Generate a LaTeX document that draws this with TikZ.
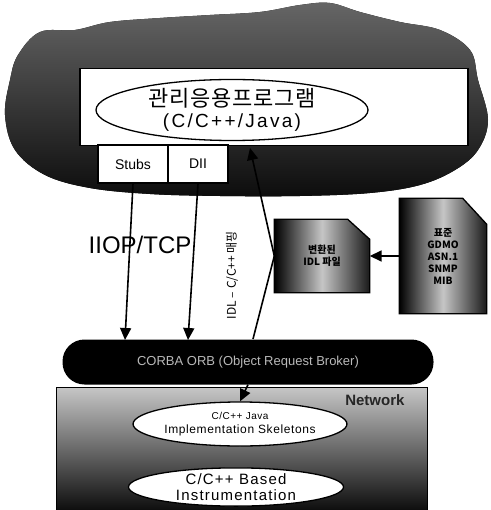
\documentclass[tikz,border=0pt]{standalone}
\usepackage{fontspec}
\setmainfont{Liberation Sans}
\newfontfamily\kor{Noto Sans CJK KR}
\usetikzlibrary{positioning,arrows.meta,shapes.geometric,calc}

\begin{document}
\begin{tikzpicture}[x=1pt, y=-1pt,
  arr/.style={-{Triangle[length=12pt,width=11pt]}, line width=1.6pt},
  line/.style={line width=1.6pt},
  wbox/.style={draw, fill=white, line width=1.3pt, inner sep=0pt},
  oval/.style={ellipse, draw, fill=white, line width=1.3pt, inner sep=0pt, align=center},
  docshade/.style={draw, line width=1.3pt, left color=black, right color=black!90, middle color=gray!45},
  doctext/.style={font=\kor\bfseries\fontsize{10}{12}\selectfont, align=center},
]
  \useasboundingbox (0,0) rectangle (490,510);

  % management application cloud
  \fill[top color=black!60, bottom color=black!95]
    plot[smooth cycle, tension=0.6] coordinates {
      (18,55) (40,32) (75,30) (110,22) (160,18) (210,15) (260,12) (300,5)
      (330,3) (360,12) (400,22) (440,30) (470,50) (478,80) (488,120)
      (478,150) (455,170) (420,185) (370,193) (300,196) (220,196)
      (150,194) (90,188) (45,175) (15,150) (5,115) (10,80)};

  \node[wbox, minimum width=388, minimum height=77] (app) at (274,107) {};
  \node[oval, minimum width=272, minimum height=54, font=\fontsize{19}{21}\selectfont] (prog) at (232,110)
    {{\kor\addfontfeatures{LetterSpace=3}\fontsize{22}{22}\selectfont 관리응용프로그램}\\
     {\addfontfeatures{LetterSpace=12}(C/C++/Java)}};
  \node[wbox, minimum width=70, minimum height=38, font=\fontsize{14}{16}\selectfont] (stubs) at (133,164) {Stubs};
  \node[wbox, minimum width=60, minimum height=38, font=\fontsize{14}{16}\selectfont] (dii) at (198,164) {DII};

  % documents
  \node[minimum width=95, minimum height=73] (idldoc) at (322,256) {};
  \path[docshade] (idldoc.south west) -- (idldoc.north west) -- ($(idldoc.north east)+(-22,0)$)
    -- ($(idldoc.north east)+(0,20)$) -- (idldoc.south east) -- cycle;
  \node[doctext] at (idldoc) {변환된\\IDL 파일};

  \node[minimum width=87, minimum height=115] (mibdoc) at (443,256) {};
  \path[docshade] (mibdoc.south west) -- (mibdoc.north west) -- ($(mibdoc.north east)+(-24,0)$)
    -- ($(mibdoc.north east)+(0,26)$) -- (mibdoc.south east) -- cycle;
  \node[doctext] at (mibdoc) {표준\\GDMO\\ASN.1\\SNMP\\MIB};

  \draw[arr] (mibdoc.west) -- (idldoc.east);

  % ORB band and network
  \node[rounded corners=22, fill=black, minimum width=371, minimum height=45,
        text=gray!55, font=\fontsize{13}{15}\selectfont] (orb) at (248,362)
    {CORBA ORB (Object Request Broker)};
  \node[draw, line width=1.3pt, top color=gray!45, bottom color=black!95,
        minimum width=371, minimum height=123] (net) at (242,449) {};
  \node[font=\bfseries\fontsize{15}{17}\selectfont, text=black!85, anchor=east] (netlbl) at (408,400) {Network};

  \node[oval, minimum width=195, minimum height=44,
        font=\addfontfeatures{LetterSpace=5}\fontsize{12}{14}\selectfont] (skel) at (240,424)
    {{\fontsize{10}{10}\selectfont C/C++ Java}\\
     Implementation Skeletons};
  \node[oval, minimum width=215, minimum height=36,
        font=\addfontfeatures{LetterSpace=8}\fontsize{15}{16}\selectfont] (instr) at (236,487)
    {C/C++ Based\\Instrumentation};

  % connectors
  \coordinate (s1) at (125,340);
  \coordinate (s2) at (188,340);
  \coordinate (up) at (250,148);
  \coordinate (o3) at (253,339);
  \draw[arr] (stubs.south) -- (s1);
  \draw[arr] (dii.south) -- (s2);
  \draw[arr] (idldoc.west) -- (up);
  \draw[line] (idldoc.west) -- (o3);
  \draw[arr] (orb.south) -- (skel.north);

  \node[font=\fontsize{24}{26}\selectfont] (iiop) at (140,245) {IIOP/TCP};
  \node[rotate=90, font=\kor\fontsize{12}{13}\selectfont] (map) at (232,275) {IDL – C/C++ 매핑};
\end{tikzpicture}
\end{document}
